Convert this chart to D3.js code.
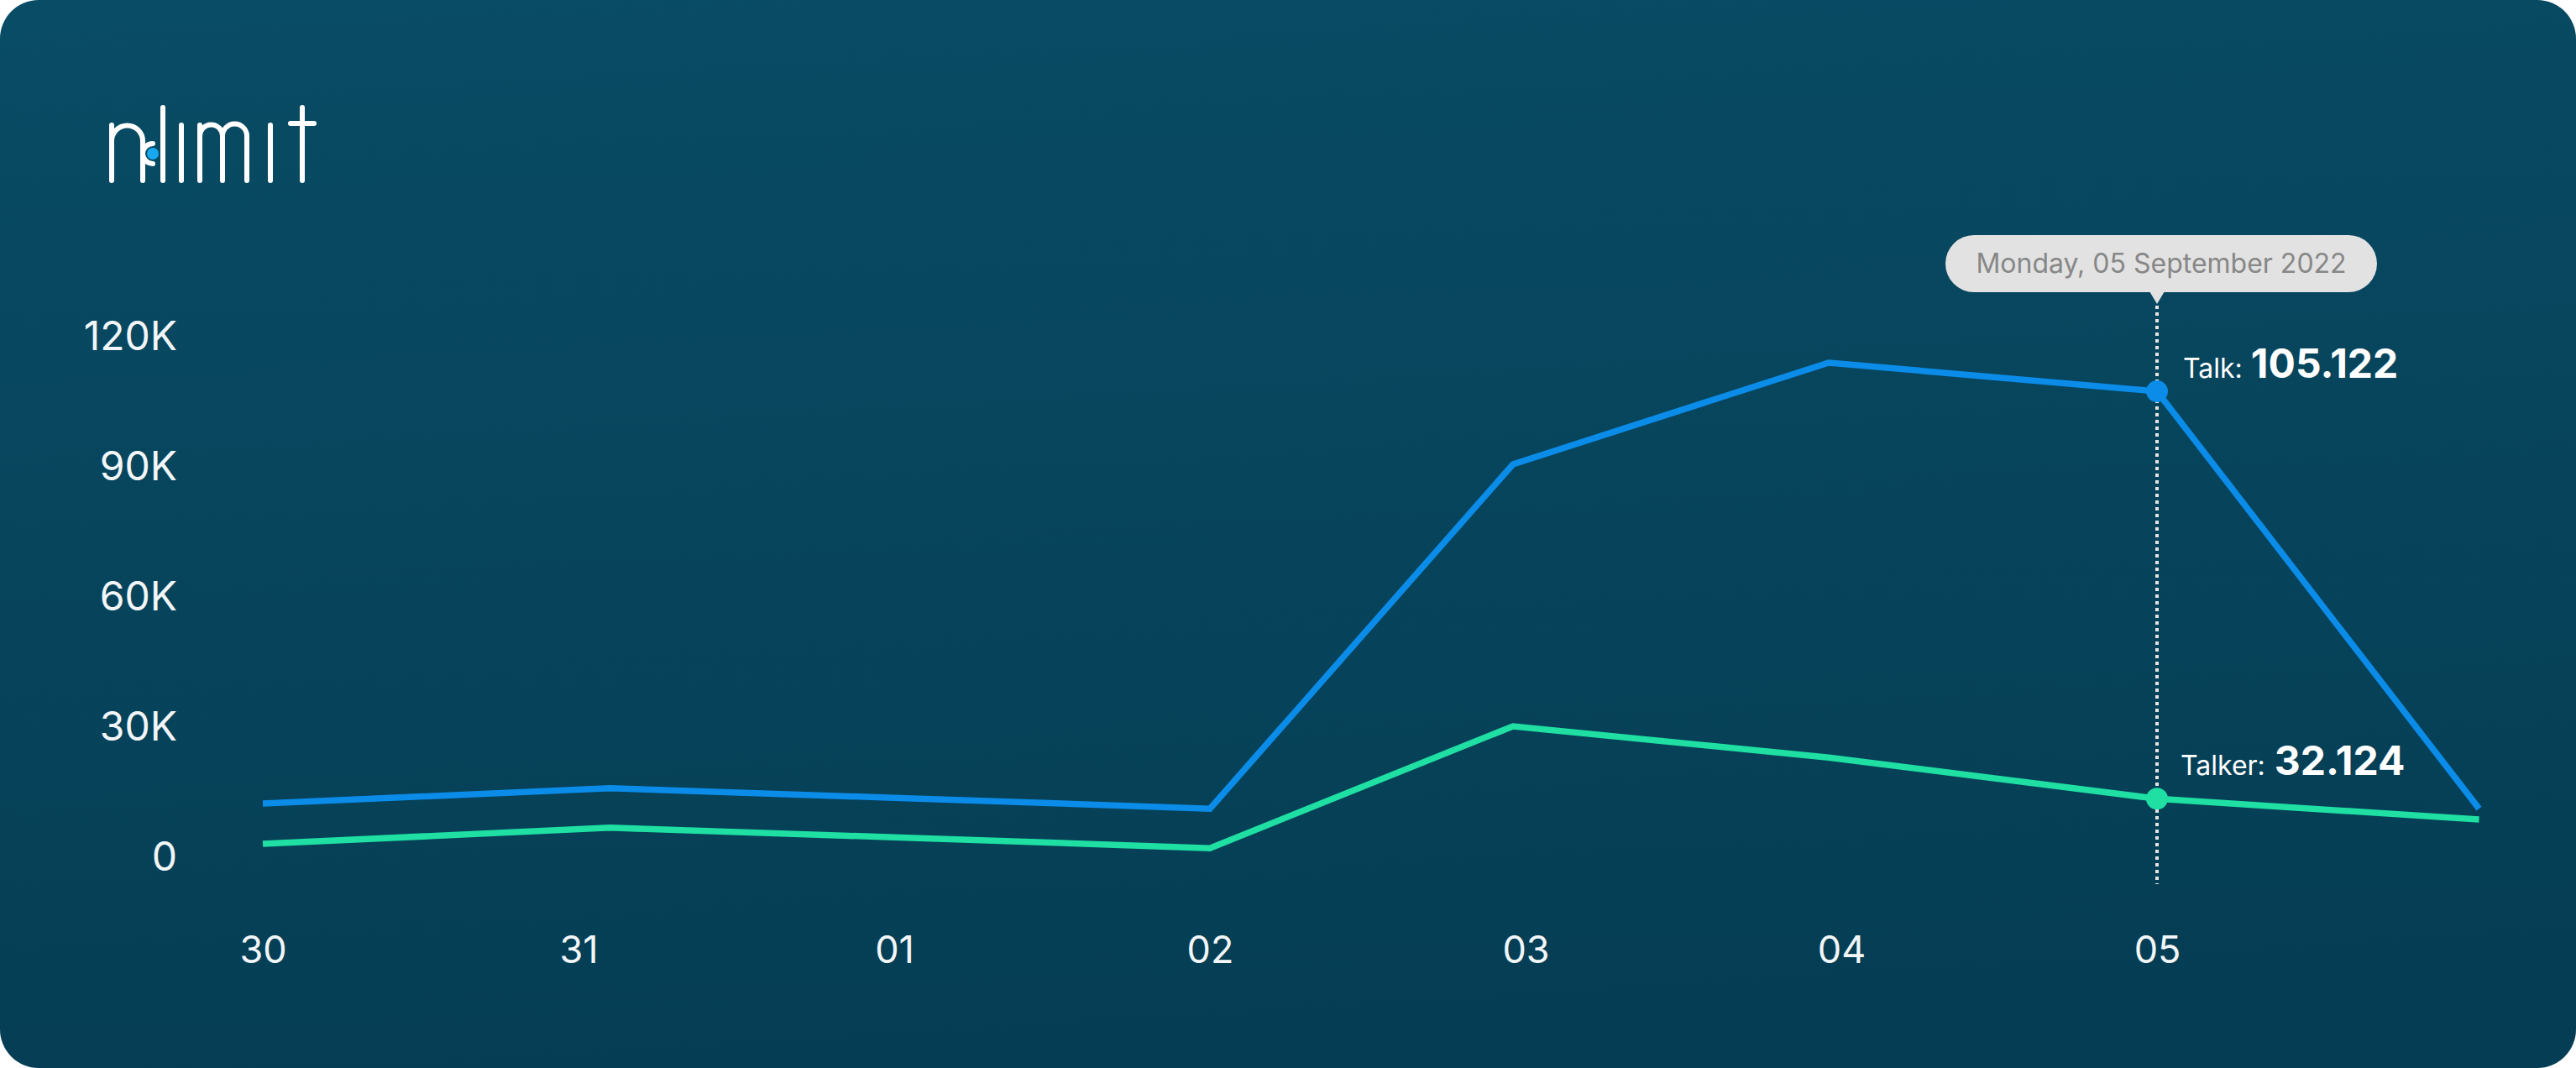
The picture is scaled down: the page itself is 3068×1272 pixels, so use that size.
<!DOCTYPE html>
<html><head><meta charset="utf-8">
<script src="https://cdn.jsdelivr.net/npm/d3@7"></script>
<style>html,body{margin:0;padding:0;background:#ffffff;overflow:hidden}svg{display:block}</style>
</head><body><svg id="c" width="3068" height="1272"></svg>
<script>
// ---- data ----
const dayLabels = ["30", "31", "01", "02", "03", "04", "05"];
const pointDays = [0, 1.1, 2, 3, 3.96, 4.96, 6, 7.02];
const talk   = [12400, 15900, 13700, 11200, 90600, 114000, 107400, 11200];
const talker = [3100, 6800, 4600, 2100, 30200, 23000, 13500, 8700];
const yTicks = [0, 30000, 60000, 90000, 120000];
const tooltipDate = "Monday, 05 September 2022";
const focusIndex = 6;
const talkLabel = "Talk:";
const talkValue = "105.122";
const talkerLabel = "Talker:";
const talkerValue = "32.124";

const W = 3068, H = 1272;
const svg = d3.select("#c");
const font = "Inter, 'Noto Sans', sans-serif";

const defs = svg.append("defs");
const grad = defs.append("linearGradient").attr("id", "bg").attr("x1", 0).attr("y1", 0).attr("x2", 0.15).attr("y2", 1);
grad.append("stop").attr("offset", "0%").attr("stop-color", "#094c65");
grad.append("stop").attr("offset", "100%").attr("stop-color", "#053e54");

svg.append("rect").attr("x", 0).attr("y", 0).attr("width", W).attr("height", H)
  .attr("rx", 46).attr("ry", 46).attr("fill", "url(#bg)");

// ---- logo ----
const logo = svg.append("g").attr("fill", "none").attr("stroke", "#ffffff")
  .attr("stroke-width", 6).attr("stroke-linecap", "round");
logo.append("title").text("nlimit");
logo.append("path").attr("d", "M133,215 V149 M133,168 A18.5,18.5 0 0 1 170,168 V215");
logo.append("path").attr("d", "M182,171 A12,12 0 0 0 182,195");
logo.append("path").attr("d", "M194,128 V215");
logo.append("path").attr("d", "M216,149 V215");
logo.append("path").attr("d", "M238,215 V149 M238,162 A13.5,13.5 0 0 1 265,162 V215 M265,162 A14.5,14.5 0 0 1 294,162 V215");
logo.append("path").attr("d", "M322,149 V215");
logo.append("path").attr("d", "M360,128 V215 M346,147 H374");
svg.append("circle").attr("cx", 182).attr("cy", 183).attr("r", 7).attr("fill", "#18a8f0");

// ---- scales ----
const x = d3.scaleLinear().domain([0, 7]).range([313, 2945]);
const y = d3.scaleLinear().domain([0, 120000]).range([1021, 401]);

// y axis
const yAxis = svg.append("g").attr("transform", "translate(211,0)")
  .call(d3.axisLeft(y).tickValues(yTicks).tickSize(0).tickPadding(0)
    .tickFormat(d => d === 0 ? "0" : (d / 1000) + "K"));
yAxis.select(".domain").remove();
yAxis.selectAll("text").attr("fill", "#f2f6f8").attr("font-family", font).attr("font-size", 48);

// x axis
const xAxis = svg.append("g").attr("transform", "translate(0,1115)")
  .call(d3.axisBottom(x).tickValues(d3.range(dayLabels.length)).tickSize(0).tickPadding(0)
    .tickFormat(i => dayLabels[i]));
xAxis.select(".domain").remove();
xAxis.selectAll("text").attr("fill", "#f2f6f8").attr("font-family", font).attr("font-size", 45);

// ---- lines ----
const line = d3.line().x((d, i) => x(pointDays[i])).y(d => y(d));
svg.append("path").datum(talker).attr("d", line).attr("fill", "none")
  .attr("stroke", "#1fdfa3").attr("stroke-width", 7.5);
svg.append("path").datum(talk).attr("d", line).attr("fill", "none")
  .attr("stroke", "#0b8ce9").attr("stroke-width", 7.5);

// ---- focus ----
const fx = x(pointDays[focusIndex]);
svg.append("line").attr("x1", fx).attr("x2", fx).attr("y1", 364).attr("y2", 1053)
  .attr("stroke", "#e4e4e4").attr("stroke-width", 4).attr("stroke-dasharray", "4 4");
svg.append("circle").attr("cx", fx).attr("cy", y(talk[focusIndex])).attr("r", 13).attr("fill", "#0b8ce9");
svg.append("circle").attr("cx", fx).attr("cy", y(talker[focusIndex])).attr("r", 13).attr("fill", "#1fdfa3");

// tooltip
const tw = 514, th = 68, ty = 280;
svg.append("rect").attr("x", fx + 5 - tw / 2).attr("y", ty).attr("width", tw).attr("height", th)
  .attr("rx", th / 2).attr("fill", "#e2e2e2");
svg.append("path").attr("d", `M${fx - 9},${ty + th - 1} L${fx + 9},${ty + th - 1} L${fx},${ty + th + 14} Z`).attr("fill", "#e2e2e2");
svg.append("text").attr("x", fx + 5).attr("y", ty + th / 2 + 11).attr("text-anchor", "middle")
  .attr("font-family", font).attr("font-size", 32).attr("fill", "#878787").text(tooltipDate);

// value labels
const t1 = svg.append("text").attr("x", fx + 31).attr("y", 450).attr("font-family", font).attr("fill", "#ffffff");
t1.append("tspan").attr("font-size", 32).text(talkLabel);
t1.append("tspan").attr("dx", 10).attr("font-size", 48).attr("font-weight", 700).text(talkValue);
const t2 = svg.append("text").attr("x", fx + 28).attr("y", 923).attr("font-family", font).attr("fill", "#ffffff");
t2.append("tspan").attr("font-size", 32).text(talkerLabel);
t2.append("tspan").attr("dx", 11).attr("font-size", 48).attr("font-weight", 700).text(talkerValue);
</script></body></html>
